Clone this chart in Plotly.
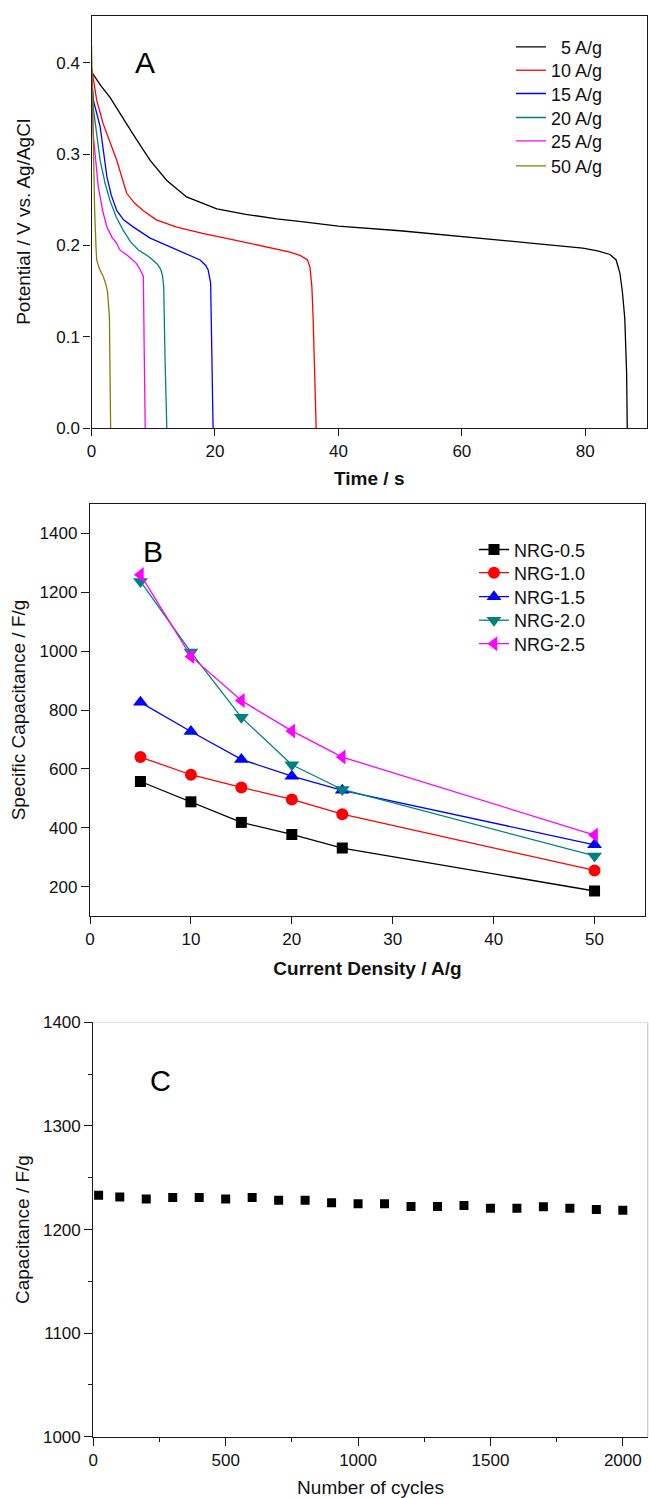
import plotly.graph_objects as go

# ---------------- Panel A: galvanostatic discharge curves ----------------
t_5 = [0, 1.5, 3.0, 5.0, 6.7, 9.5, 12.2, 15.4, 20.3, 25, 30, 34, 40, 50, 60, 66, 72, 79.6, 82, 84, 85.0, 85.6, 86.0, 86.4, 86.7, 86.8]
v_5 = [0.390, 0.375, 0.362, 0.340, 0.322, 0.293, 0.271, 0.253, 0.240, 0.234, 0.229, 0.226, 0.221, 0.216, 0.210, 0.206, 0.202, 0.197, 0.194, 0.190, 0.184, 0.170, 0.150, 0.120, 0.060, 0.0]
t_10 = [0, 0.4, 0.84, 1.9, 3.0, 4.1, 5.7, 7.0, 8.4, 10.5, 13.8, 18, 23, 29.4, 32, 33.8, 35.0, 35.4, 35.7, 35.9, 36.2, 36.4]
v_10 = [0.395, 0.375, 0.359, 0.333, 0.312, 0.293, 0.257, 0.246, 0.238, 0.228, 0.220, 0.213, 0.206, 0.197, 0.193, 0.189, 0.184, 0.176, 0.155, 0.122, 0.060, 0.0]
t_15 = [0, 0.3, 1.4, 2.5, 3.2, 4.1, 5.2, 6.8, 9.5, 13.8, 16, 17.6, 18.5, 18.9, 19.1, 19.3, 19.5, 19.7]
v_15 = [0.390, 0.359, 0.330, 0.275, 0.255, 0.238, 0.228, 0.220, 0.208, 0.195, 0.189, 0.184, 0.178, 0.173, 0.166, 0.159, 0.080, 0.0]
t_20 = [0, 0.3, 1.4, 2.2, 3.0, 4.0, 5.1, 6.3, 7.6, 9.2, 10.6, 11.2, 11.5, 11.7, 11.9, 12.2]
v_20 = [0.385, 0.350, 0.293, 0.268, 0.249, 0.231, 0.217, 0.204, 0.195, 0.188, 0.180, 0.174, 0.167, 0.155, 0.080, 0.0]
t_25 = [0, 0.3, 1.1, 1.8, 2.5, 3.3, 4.1, 4.6, 6.0, 7.3, 8.0, 8.4, 8.55, 8.7]
v_25 = [0.380, 0.320, 0.264, 0.238, 0.220, 0.209, 0.202, 0.195, 0.188, 0.180, 0.172, 0.166, 0.080, 0.0]
t_50 = [0, 0.15, 0.3, 0.5, 0.73, 0.84, 1.3, 1.9, 2.3, 2.6, 2.9, 3.0, 3.1]
v_50 = [0.420, 0.350, 0.286, 0.240, 0.198, 0.184, 0.174, 0.166, 0.158, 0.149, 0.122, 0.060, 0.0]

a_names = ["\u00a0\u00a05 A/g", "10 A/g", "15 A/g", "20 A/g", "25 A/g", "50 A/g"]
a_colors = ["#000000", "#ff0000", "#0000ff", "#008080", "#ff00ff", "#808000"]

# ---------------- Panel B: rate capability ----------------
current_density = [5, 10, 15, 20, 25, 50]
nrg_05 = [557, 488, 418, 377, 331, 185]
nrg_10 = [640, 580, 537, 496, 446, 255]
nrg_15 = [826, 727, 632, 575, 527, 342]
nrg_20 = [1237, 997, 775, 614, 530, 304]
nrg_25 = [1260, 982, 832, 729, 640, 375]
b_names = ["NRG-0.5", "NRG-1.0", "NRG-1.5", "NRG-2.0", "NRG-2.5"]
b_colors = ["#000000", "#ff0000", "#0000ff", "#008080", "#ff00ff"]
b_symbols = ["square", "circle", "triangle-up", "triangle-down", "triangle-left"]
b_sizes = [11, 12, 13, 13, 13]

# ---------------- Panel C: cycling stability ----------------
cycles = [20, 100, 200, 300, 400, 500, 600, 700, 800, 900, 1000,
          1100, 1200, 1300, 1400, 1500, 1600, 1700, 1800, 1900, 2000]
capacitance = [1233, 1231.5, 1229.6, 1231, 1231, 1229.6, 1231, 1228.3, 1228.3, 1225.8, 1224.8,
               1225, 1222.2, 1222.2, 1223.2, 1220.6, 1220.6, 1222, 1220.6, 1219.3, 1218.6]

FONT = "Liberation Sans, Arial, Helvetica, sans-serif"
W, H = 649, 1498

def px_x(p):
    return p / W

def px_y(p):
    return 1 - p / H

# legend entry rows (pixel centres) for each panel
a_leg_rows = [46.7, 70, 93.3, 117.3, 140.7, 165.7]
b_leg_rows = [549.3, 572.5, 596.5, 620, 643.5]

fig = go.Figure()
legends = {}
LEG_OFF = 18

a_t = [t_5, t_10, t_15, t_20, t_25, t_50]
a_v = [v_5, v_10, v_15, v_20, v_25, v_50]
k = 1
for name, col, tt, vv, row in zip(a_names, a_colors, a_t, a_v, a_leg_rows):
    lg = "legend" if k == 1 else f"legend{k}"
    fig.add_trace(go.Scatter(x=tt, y=vv, mode="lines", name=name,
                             line=dict(color=col, width=1.3),
                             xaxis="x", yaxis="y", legend=lg))
    legends[lg] = dict(x=px_x(511), y=px_y(row - LEG_OFF), xanchor="left", yanchor="top",
                       bgcolor="rgba(0,0,0,0)", font=dict(family=FONT, size=18, color="#111"),
                       itemwidth=30)
    k += 1

b_vals = [nrg_05, nrg_10, nrg_15, nrg_20, nrg_25]
for name, col, sym, sz, vals, row in zip(b_names, b_colors, b_symbols, b_sizes, b_vals, b_leg_rows):
    lg = f"legend{k}"
    fig.add_trace(go.Scatter(x=current_density, y=vals, mode="lines+markers", name=name,
                             line=dict(color=col, width=1.3),
                             marker=dict(color=col, symbol=sym, size=sz),
                             xaxis="x2", yaxis="y2", legend=lg))
    legends[lg] = dict(x=px_x(474), y=px_y(row - LEG_OFF), xanchor="left", yanchor="top",
                       bgcolor="rgba(0,0,0,0)", font=dict(family=FONT, size=18, color="#111"),
                       itemwidth=30)
    k += 1

fig.add_trace(go.Scatter(x=cycles, y=capacitance, mode="markers", name="Capacitance",
                         marker=dict(color="#000000", symbol="square", size=9),
                         xaxis="x3", yaxis="y3", showlegend=False))

axis_common = dict(showgrid=False, zeroline=False, showline=True, linecolor="#1a1a1a",
                   linewidth=1.3, ticks="outside", tickcolor="#1a1a1a", tickwidth=1.2,
                   tickfont=dict(family=FONT, size=17, color="#111"), automargin=False)

fig.update_layout(
    width=W, height=H,
    margin=dict(l=0, r=0, t=0, b=0),
    paper_bgcolor="white", plot_bgcolor="white",
    font=dict(family=FONT, color="#111"),
    xaxis=dict(axis_common, domain=[px_x(91.5), px_x(647)], range=[0, 90], anchor="y",
               tickvals=[0, 20, 40, 60, 80], ticklen=7, mirror=True,
               title=dict(text="<b>Time / s</b>", font=dict(size=19, family=FONT), standoff=12)),
    yaxis=dict(axis_common, domain=[px_y(428), px_y(15.7)], range=[0, 0.4515], anchor="x",
               tickvals=[0, 0.1, 0.2, 0.3, 0.4], ticktext=["0.0", "0.1", "0.2", "0.3", "0.4"],
               ticklen=7, mirror=True,
               title=dict(text="Potential / V vs. Ag/AgCl", font=dict(size=19, family=FONT), standoff=20)),
    xaxis2=dict(axis_common, domain=[px_x(90), px_x(645)], range=[0, 55], anchor="y2",
                tickvals=[0, 10, 20, 30, 40, 50], ticklen=7, mirror=True,
                title=dict(text="<b>Current Density / A/g</b>", font=dict(size=19, family=FONT), standoff=14)),
    yaxis2=dict(axis_common, domain=[px_y(916), px_y(504)], range=[100, 1500], anchor="x2",
                tickvals=[200, 400, 600, 800, 1000, 1200, 1400], ticklen=8, mirror=True,
                title=dict(text="Specific Capacitance / F/g", font=dict(size=19, family=FONT), standoff=8)),
    xaxis3=dict(axis_common, domain=[px_x(93.3), px_x(647.7)], range=[0, 2094], anchor="y3",
                tickvals=[0, 500, 1000, 1500, 2000], ticklen=8,
                minor=dict(tickvals=[250, 750, 1250, 1750], ticklen=4, ticks="outside", tickcolor="#1a1a1a"),
                title=dict(text="Number of cycles", font=dict(size=19, family=FONT), standoff=14)),
    yaxis3=dict(axis_common, domain=[px_y(1436.7), px_y(1022.4)], range=[1000, 1400], anchor="x3",
                tickvals=[1000, 1100, 1200, 1300, 1400], ticklen=8,
                minor=dict(tickvals=[1050, 1150, 1250, 1350], ticklen=4, ticks="outside", tickcolor="#1a1a1a"),
                title=dict(text="Capacitance / F/g", font=dict(size=19, family=FONT), standoff=8)),
    showlegend=True,
)
fig.update_layout(**legends)

# Light frame on the top/right of panel C
fig.add_shape(type="line", xref="x3 domain", yref="y3 domain", x0=1, x1=1, y0=0, y1=1,
              line=dict(color="#c8c8c8", width=1.2))
fig.add_shape(type="line", xref="x3 domain", yref="y3 domain", x0=0, x1=1, y0=1, y1=1,
              line=dict(color="#e0e0e0", width=1.0))

# Panel labels
for txt, xr, yr, xx, yy, sz in [("A", "x", "y", 8.7, 0.40, 30),
                                 ("B", "x2", "y2", 6.2, 1337, 30),
                                 ("C", "x3", "y3", 254, 1343, 29)]:
    fig.add_annotation(text=txt, x=xx, y=yy, xref=xr, yref=yr, showarrow=False,
                       font=dict(family=FONT, size=sz, color="#000"))

fig.write_html("out.html", config={"displayModeBar": False},
               post_script="document.body.style.margin='0px';document.body.style.overflow='hidden';")
